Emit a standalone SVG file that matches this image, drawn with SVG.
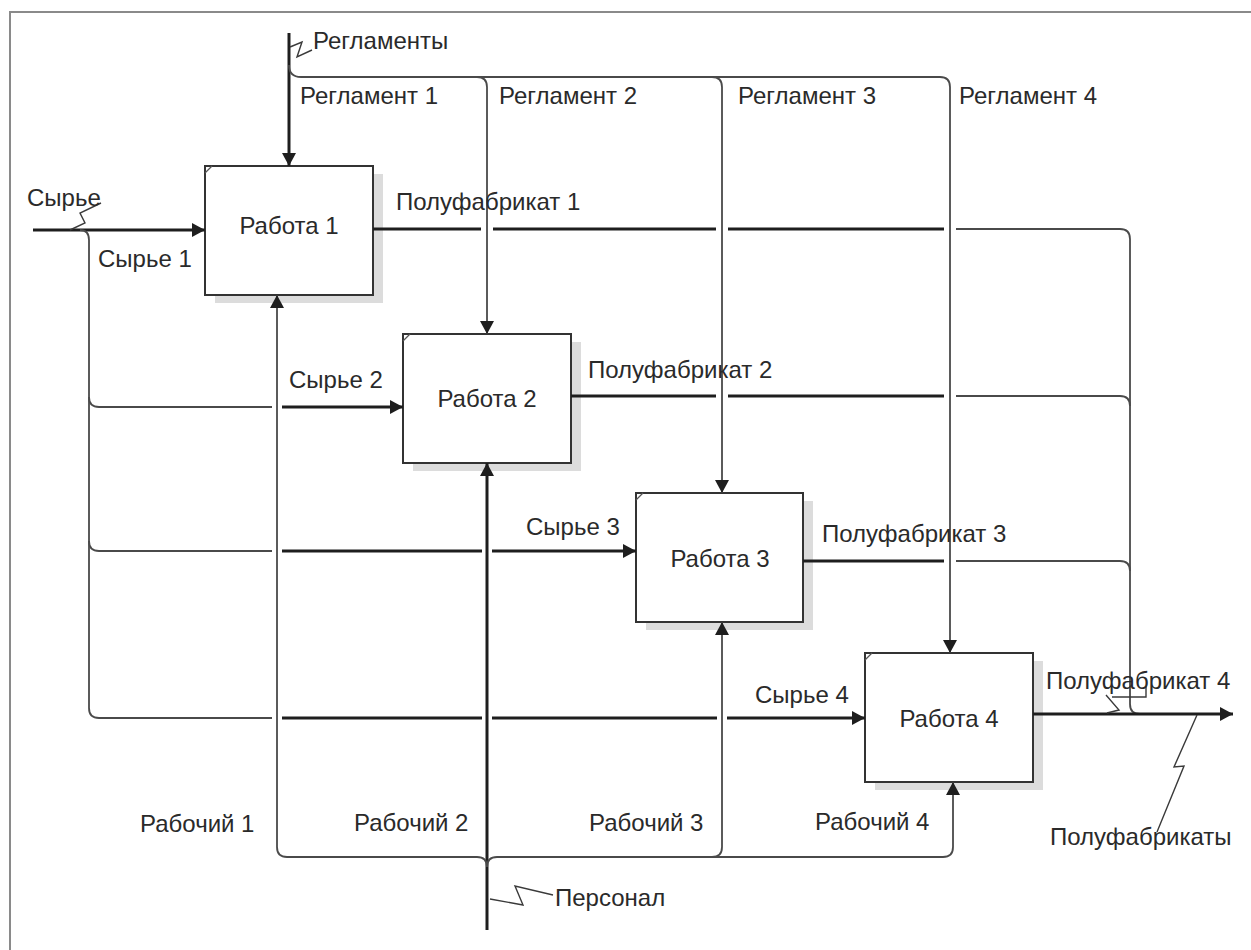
<svg xmlns="http://www.w3.org/2000/svg" width="1251" height="950" viewBox="0 0 1251 950">
  <defs>
    <marker id="arr" viewBox="0 0 13 14" refX="13" refY="7" markerWidth="13" markerHeight="14" orient="auto" markerUnits="userSpaceOnUse">
      <path d="M0,0 L13,7 L0,14 z" fill="#1e1e1e"/>
    </marker>
    <style>
      text { font-family: "Liberation Sans", Arial, sans-serif; font-size: 24px; fill: #2a2a2a; }
      .box { fill: #ffffff; stroke: #333333; stroke-width: 2; }
      .shadow { fill: #dcdcdc; stroke: none; }
      .corner { stroke: #555555; stroke-width: 1.2; fill: none; }
      .thick { fill: none; stroke: #1e1e1e; stroke-width: 3; }
      .thin { fill: none; stroke: #4a4a4a; stroke-width: 1.8; }
      .squig { fill: none; stroke: #3a3a3a; stroke-width: 1.4; }
      .lab { text-anchor: middle; }
    </style>
  </defs>

  <rect x="0" y="0" width="1251" height="950" fill="#ffffff"/>
  <!-- page frame -->
  <rect x="10" y="12" width="1260" height="960" fill="none" stroke="#8a8a8a" stroke-width="2"/>

  <!-- activities -->
  <g id="work1">
    <rect class="shadow" x="215" y="174" width="168" height="129"/>
    <rect class="box" x="205" y="166" width="168" height="129"/>
    <path class="corner" d="M205,173 L212,166"/>
    <text class="lab" x="289" y="234">Работа 1</text>
  </g>
  <g id="work2">
    <rect class="shadow" x="413" y="342" width="168" height="129"/>
    <rect class="box" x="403" y="334" width="168" height="129"/>
    <path class="corner" d="M403,341 L410,334"/>
    <text class="lab" x="487" y="407">Работа 2</text>
  </g>
  <g id="work3">
    <rect class="shadow" x="646" y="501" width="167" height="129"/>
    <rect class="box" x="636" y="493" width="167" height="129"/>
    <path class="corner" d="M636,500 L643,493"/>
    <text class="lab" x="720" y="567">Работа 3</text>
  </g>
  <g id="work4">
    <rect class="shadow" x="875" y="661" width="168" height="129"/>
    <rect class="box" x="865" y="653" width="168" height="129"/>
    <path class="corner" d="M865,660 L872,653"/>
    <text class="lab" x="949" y="727">Работа 4</text>
  </g>

  <!-- arrows -->
  <g id="connectors">
    <!-- controls: Регламенты -->
    <path class="thick" d="M289,33 V166" marker-end="url(#arr)"/>
    <path class="thin" d="M289,65 Q289,77 301,77 H940 Q950,77 950,87 V653" marker-end="url(#arr)"/>
    <path class="thin" d="M477,77 Q487,77 487,87 V334" marker-end="url(#arr)"/>
    <path class="thin" d="M712,77 Q722,77 722,87 V493" marker-end="url(#arr)"/>

    <!-- inputs: Сырье -->
    <path class="thick" d="M33,230 H205" marker-end="url(#arr)"/>
    <path class="thin" d="M80,230 Q89,230 89,240 V708 Q89,718 99,718 H272"/>
    <path class="thin" d="M89,397 Q89,407 99,407 H272"/>
    <path class="thick" d="M282,407 H403" marker-end="url(#arr)"/>
    <path class="thin" d="M89,541 Q89,551 99,551 H272"/>
    <path class="thick" d="M282,551 H482 M492,551 H636" marker-end="url(#arr)"/>
    <path class="thick" d="M282,718 H482 M492,718 H717 M727,718 H865" marker-end="url(#arr)"/>

    <!-- outputs: Полуфабрикаты -->
    <path class="thick" d="M373,229 H481 M493,229 H716 M728,229 H944"/>
    <path class="thin" d="M956,229 H1120 Q1130,229 1130,239 V704 Q1130,714 1140,714"/>
    <path class="thick" d="M571,396 H716 M728,396 H944"/>
    <path class="thin" d="M956,396 H1120 Q1130,396 1130,406"/>
    <path class="thick" d="M803,561 H944"/>
    <path class="thin" d="M956,561 H1120 Q1130,561 1130,571"/>
    <path class="thick" d="M1033,714 H1233" marker-end="url(#arr)"/>

    <!-- mechanisms: Персонал -->
    <path class="thick" d="M487,930 V463" marker-end="url(#arr)"/>
    <path class="thin" d="M487,867 Q487,857 477,857 H287 Q277,857 277,847 V295" marker-end="url(#arr)"/>
    <path class="thin" d="M487,867 Q487,857 497,857 H943 Q953,857 953,847 V782" marker-end="url(#arr)"/>
    <path class="thin" d="M712,857 Q722,857 722,847 V622" marker-end="url(#arr)"/>

    <!-- label squiggles -->
    <polyline class="squig" points="290,47 302,42 297,57 312,50"/>
    <polyline class="squig" points="101,203 80,213 85,223 70,230"/>
    <polyline class="squig" points="490,899 523,905 515,886 553,895"/>
    <polyline class="squig" points="1157,832 1184,766 1174,767 1197,715"/>
    <polyline class="squig" points="1106,695 1119,710 1107,713"/>
    <polyline class="squig" points="1112,697 1146,697 1146,686"/>
  </g>

  <!-- arrow labels -->
  <g id="labels">
    <text x="313" y="49">Регламенты</text>
    <text x="300" y="104">Регламент 1</text>
    <text x="499" y="104">Регламент 2</text>
    <text x="738" y="104">Регламент 3</text>
    <text x="959" y="104">Регламент 4</text>
    <text x="27" y="206">Сырье</text>
    <text x="98" y="267">Сырье 1</text>
    <text x="289" y="388">Сырье 2</text>
    <text x="526" y="535">Сырье 3</text>
    <text x="755" y="703">Сырье 4</text>
    <text x="396" y="210">Полуфабрикат 1</text>
    <text x="588" y="378">Полуфабрикат 2</text>
    <text x="822" y="542">Полуфабрикат 3</text>
    <text x="1046" y="689">Полуфабрикат 4</text>
    <text x="1050" y="845">Полуфабрикаты</text>
    <text x="140" y="832">Рабочий 1</text>
    <text x="354" y="831">Рабочий 2</text>
    <text x="589" y="831">Рабочий 3</text>
    <text x="815" y="830">Рабочий 4</text>
    <text x="555" y="906">Персонал</text>
  </g>
</svg>
